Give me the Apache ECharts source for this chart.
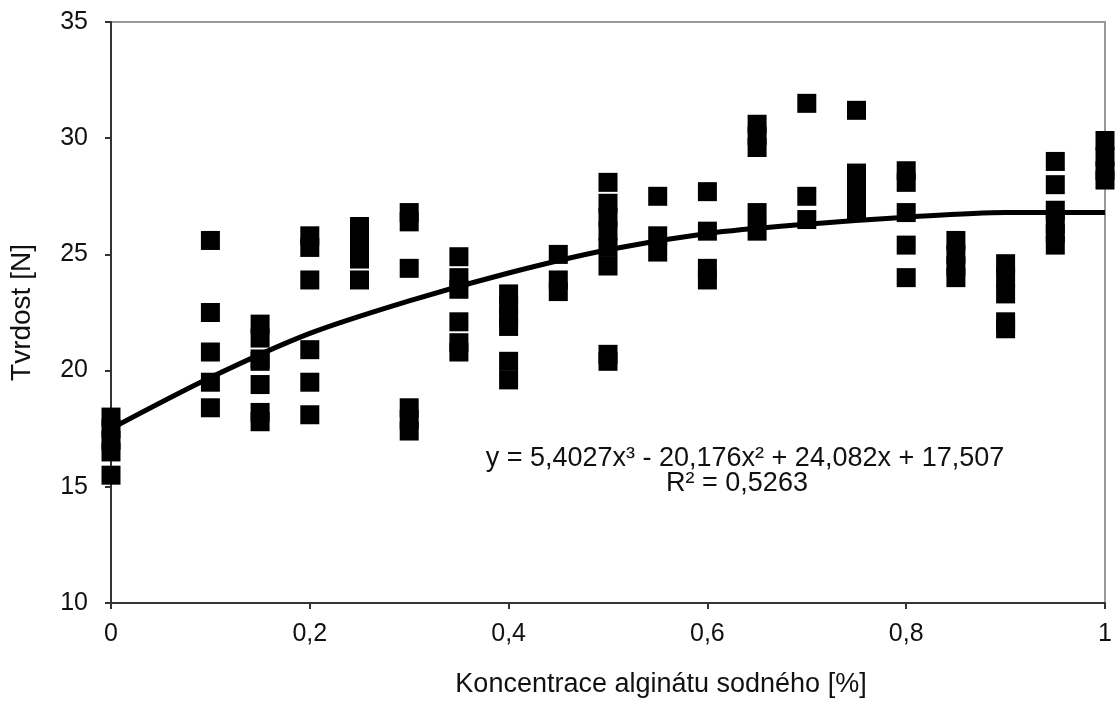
<!DOCTYPE html>
<html>
<head>
<meta charset="utf-8">
<script src="https://cdn.jsdelivr.net/npm/echarts@6/dist/echarts.min.js"></script>
<style>
html,body{margin:0;padding:0;background:#fff;}
#main{width:1116px;height:710px;}
</style>
</head>
<body>
<div id="main"></div>
<script>
// koncentrace (x) a naměřené tvrdosti (y) pro každou koncentraci
var concentrations = [0, 0.1, 0.15, 0.2, 0.25, 0.3, 0.35, 0.4, 0.45, 0.5, 0.55, 0.6, 0.65, 0.7, 0.75, 0.8, 0.85, 0.9, 0.95, 1];
var hardness = [
	[18.0, 17.5, 17.0, 16.5, 15.5],
	[25.6, 22.5, 20.8, 19.5, 18.4],
	[22.0, 21.4, 20.5, 20.4, 19.4, 18.2, 17.8],
	[25.8, 25.3, 23.9, 20.9, 19.5, 18.1],
	[26.2, 25.6, 25.2, 24.8, 23.9],
	[26.8, 26.4, 24.4, 18.4, 17.9, 17.4],
	[24.9, 24.0, 23.5, 22.1, 21.2, 20.8],
	[23.3, 22.8, 22.3, 21.9, 20.4, 19.6],
	[25.0, 23.9, 23.4],
	[28.1, 27.2, 26.6, 26.0, 25.3, 24.5, 20.7, 20.4],
	[27.5, 25.8, 25.1],
	[27.7, 26.0, 24.4, 23.9],
	[30.6, 30.1, 29.6, 26.8, 26.0],
	[31.5, 27.5, 26.5],
	[31.2, 28.5, 27.9, 27.4, 26.9],
	[28.6, 28.1, 26.8, 25.4, 24.0],
	[25.6, 25.0, 24.5, 24.0],
	[24.6, 24.0, 23.3, 22.1, 21.8],
	[29.0, 28.0, 26.9, 26.3, 25.9, 25.4],
	[29.9, 29.2, 28.6, 28.2]
];

// spojnice trendu
var trendX = [0, 0.1, 0.2, 0.3, 0.4, 0.5, 0.6, 0.7, 0.8, 0.9, 1];
var trendY = [17.5, 19.7, 21.6, 23.0, 24.2, 25.2, 25.9, 26.3, 26.6, 26.8, 26.8];

var equationText = 'y = 5,4027x³ - 20,176x² + 24,082x + 17,507';
var r2Text = 'R² = 0,5263';

var points = [];
concentrations.forEach(function(c, i){
	hardness[i].forEach(function(v){
		points.push([c, v]);
	});
});
var trend = trendX.map(function(x, i){ return [x, trendY[i]]; });

var font = '"Liberation Sans", Arial, sans-serif';

var myChart = echarts.init(document.getElementById('main'));

var option = {
	animation: false,
	grid: {
		left: 111, right: 11, top: 22, bottom: 107,
		show: true,
		borderColor: '#999',
		borderWidth: 2
	},
	xAxis: {
		type: 'value',
		min: 0, max: 1, interval: 0.2,
		name: 'Koncentrace alginátu sodného [%]',
		nameLocation: 'middle',
		nameGap: 68,
		nameTextStyle: { fontFamily: font, fontSize: 27, color: '#111', padding: [0, 0, 0, 106] },
		axisLine: { lineStyle: { color: '#333', width: 2 } },
		axisTick: { length: 6, lineStyle: { color: '#333', width: 2 } },
		axisLabel: {
			margin: 19,
			fontFamily: font, fontSize: 25, color: '#111',
			formatter: function(v){ return String(v).replace('.', ','); }
		},
		splitLine: { show: false }
	},
	yAxis: {
		type: 'value',
		min: 10, max: 35, interval: 5,
		name: 'Tvrdost [N]',
		nameLocation: 'middle',
		nameGap: 75,
		nameTextStyle: { fontFamily: font, fontSize: 28, color: '#111' },
		axisLine: { show: true, lineStyle: { color: '#333', width: 2 } },
		axisTick: { show: true, length: 6, lineStyle: { color: '#333', width: 2 } },
		axisLabel: { margin: 23, fontFamily: font, fontSize: 25, color: '#111' },
		splitLine: { show: false }
	},
	series: [{
		type: 'scatter',
		data: points,
		symbol: 'rect',
		symbolSize: 19,
		itemStyle: { color: '#000', opacity: 1 },
		z: 2
	}, {
		type: 'line',
		data: trend,
		smooth: 0.3,
		showSymbol: false,
		lineStyle: { color: '#000', width: 5 },
		z: 3
	}],
	graphic: [{
		type: 'text',
		x: 745, y: 459,
		style: { text: equationText, fontFamily: font, fontSize: 27, fill: '#111', align: 'center', verticalAlign: 'middle' }
	}, {
		type: 'text',
		x: 737, y: 484,
		style: { text: r2Text, fontFamily: font, fontSize: 27, fill: '#111', align: 'center', verticalAlign: 'middle' }
	}]
};

myChart.setOption(option);
</script>
</body>
</html>
